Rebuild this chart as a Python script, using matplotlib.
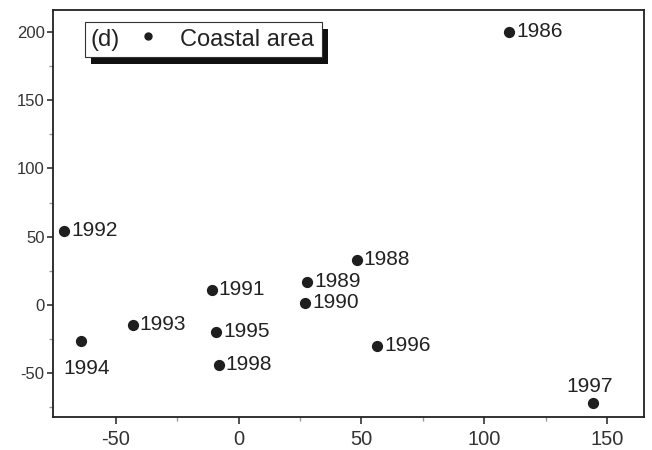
import matplotlib
matplotlib.use("Agg")
import matplotlib.pyplot as plt
from matplotlib.patches import Rectangle

plt.rcParams['font.family'] = ['Liberation Sans', 'DejaVu Sans']
plt.rcParams['axes.unicode_minus'] = False

# data
years = ['1986', '1988', '1989', '1990', '1991', '1992', '1993',
         '1994', '1995', '1996', '1997', '1998']
xval = [110, 48, 28, 27, -11, -71, -43, -64, -9, 56.5, 144, -8]
yval = [200, 33, 17, 1.5, 11, 54, -15, -26, -20, -30, -72, -44]

# label offsets (points), default is right of the dot
offsets = {'1994': (-13, -20, 'left'), '1997': (-2, 12, 'center')}

xticks = [-50, 0, 50, 100, 150]
yticks = [-50, 0, 50, 100, 150, 200]
legend_label = 'Coastal area'
panel = '(d)'

dot = '#1e1e1e'

fig = plt.figure(figsize=(6.52, 4.5), dpi=100)
ax = fig.add_axes([0.0813, 0.0733, 0.9067, 0.9047])

ax.scatter(xval, yval, s=50, color=dot, zorder=3)
for yr, x, y in zip(years, xval, yval):
    dx, dy, ha = offsets.get(yr, (5, 0.5, 'left'))
    ax.annotate(yr, (x, y), xytext=(dx, dy), textcoords='offset points',
                ha=ha, va='center', fontsize=15, color='#222222')

ax.set_xlim(-75.5, 165)
ax.set_ylim(-82, 216)
ax.set_xticks(xticks)
ax.set_yticks(yticks)
ax.set_xticks([-25, 25, 75, 125], minor=True)
ax.set_yticks([-75, -25, 25, 75, 125, 175], minor=True)
ax.tick_params(axis='x', labelsize=14.5, length=5, width=1.2, colors='#333333', pad=4)
ax.tick_params(axis='y', labelsize=12, length=4, width=1.2, colors='#333333', pad=2)
ax.tick_params(which='minor', length=3, width=1, color='#999999')
for s in ax.spines.values():
    s.set_color('#222222')
    s.set_linewidth(1.3)

# legend box with hard black shadow
bx, by, bw, bh = 0.054, 0.8845, 0.401, 0.086
ax.add_patch(Rectangle((bx + 0.0105, by - 0.018), bw, bh, transform=ax.transAxes,
                       facecolor='#111111', edgecolor='none', zorder=4))
ax.add_patch(Rectangle((bx, by), bw, bh, transform=ax.transAxes,
                       facecolor='white', edgecolor='#333333', lw=0.8, zorder=5))
ax.text(0.063, 0.925, panel, transform=ax.transAxes, fontsize=17,
        va='center', ha='left', color='#222222', zorder=6)
ax.plot([0.161], [0.937], 'o', ms=5, color=dot, transform=ax.transAxes, zorder=6)
ax.text(0.215, 0.925, legend_label, transform=ax.transAxes, fontsize=17,
        va='center', ha='left', color='#222222', zorder=6)

fig.savefig('out.png', dpi=100)
